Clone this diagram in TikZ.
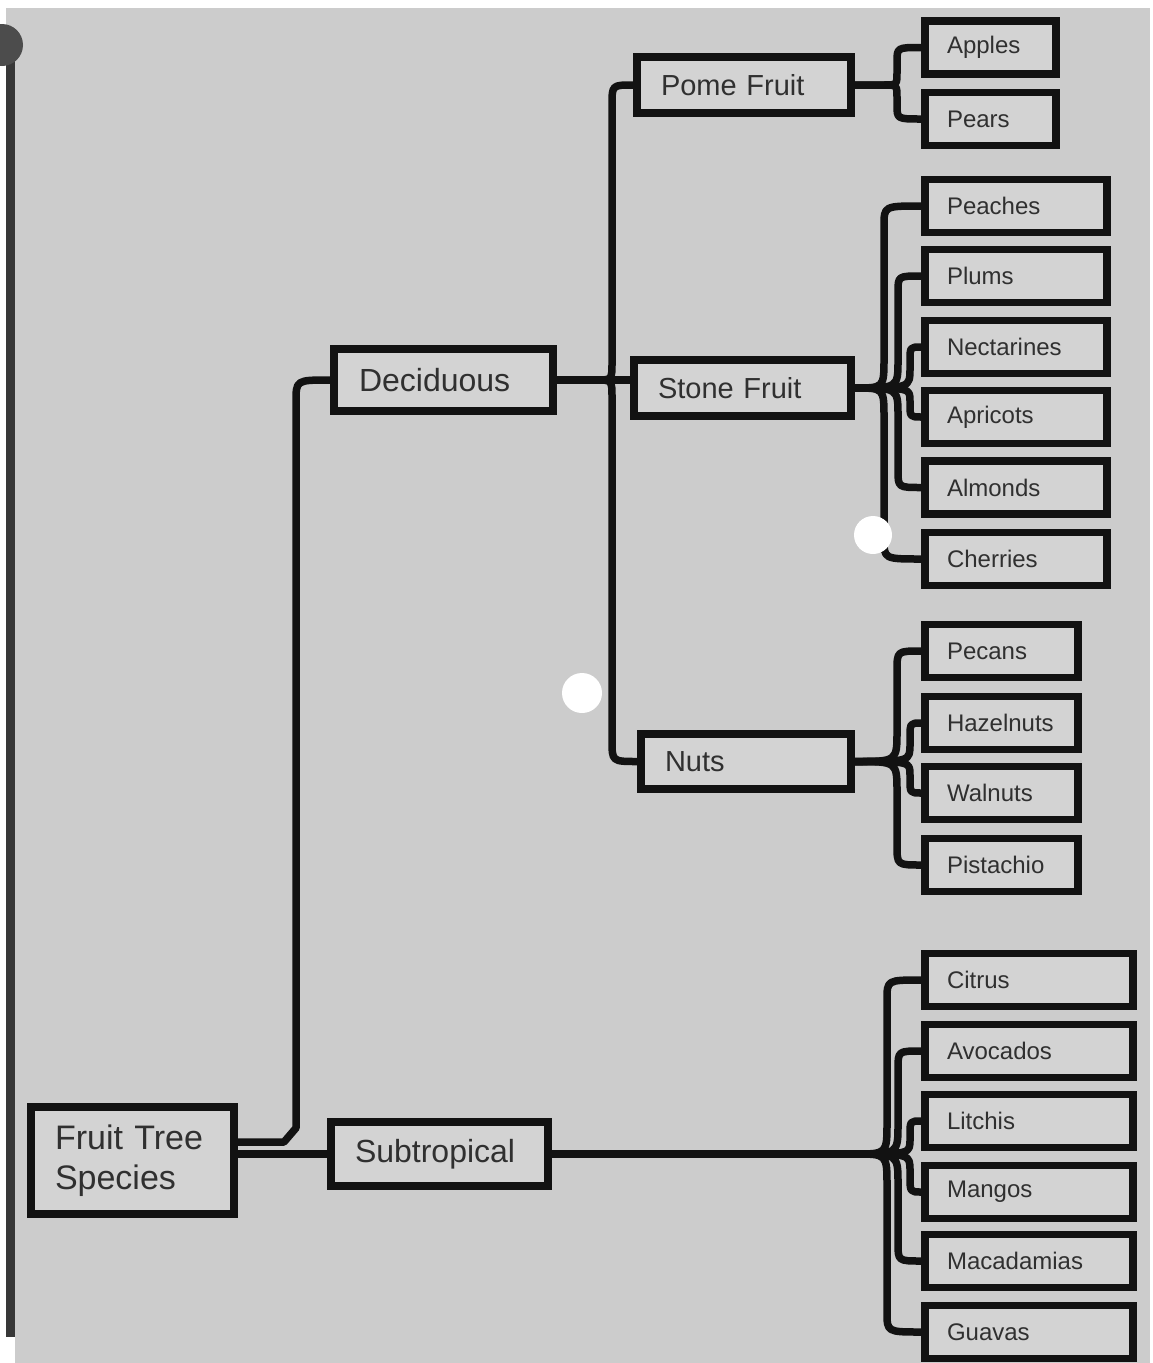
\documentclass[tikz,border=0pt]{standalone}
\usepackage{fontspec}
\setmainfont{Liberation Sans}
\definecolor{bg}{RGB}{204,204,204}
\definecolor{boxfill}{RGB}{211,211,211}
\definecolor{txt}{RGB}{48,48,48}
\definecolor{ln}{RGB}{18,18,18}
\definecolor{strip}{RGB}{55,55,55}
\begin{document}
\begin{tikzpicture}[x=1pt,y=-1pt,
  conn/.style={draw=ln, line width=7.5pt, line join=round},
  box/.style={draw=ln, line width=7.5pt, fill=boxfill, text=txt, align=left, inner ysep=0pt, anchor=center},
  mid/.style={box, inner xsep=24pt, font=\fontsize{29}{34}\selectfont},
  leaf/.style={box, inner xsep=22pt, minimum height=53pt, font=\fontsize{24}{28}\selectfont}]
\useasboundingbox (0,0) rectangle (1153,1363);
% page background
\fill[white] (0,0) rectangle (1153,1363);
\fill[bg] (6,8) rectangle (1150,1363);
\fill[strip] (6,50) rectangle (15,1337);
\fill[white] (0,1337) rectangle (15,1363);
\fill[gray!60!black] (2,45) circle[radius=21pt];

% nodes
\node[box, inner xsep=24pt, minimum width=203pt, minimum height=107pt, text width=155pt,
      font=\fontsize{34}{40}\selectfont] (root) at (132.5,1160.5) {Fruit Tree\\Species};
\node[box, inner xsep=25pt, minimum width=219pt, minimum height=62pt, text width=169pt,
      font=\fontsize{32}{36}\selectfont] (dec) at (443.5,380) {Deciduous};
\node[box, inner xsep=24pt, minimum width=217pt, minimum height=64pt, text width=169pt,
      font=\fontsize{32}{36}\selectfont] (sub) at (439.5,1154) {Subtropical};
\node[mid, minimum width=214pt, minimum height=56pt, text width=166pt] (pome) at (744,85) {Pome Fruit};
\node[mid, minimum width=217pt, minimum height=56pt, text width=169pt] (stone) at (742.5,388) {Stone Fruit};
\node[mid, minimum width=210pt, minimum height=55pt, text width=162pt] (nuts) at (746,761.5) {Nuts};

\node[leaf, minimum width=131pt, text width=87pt] (apples) at (990.5,47.5) {Apples};
\node[leaf, minimum width=131pt, text width=87pt] (pears) at (990.5,119) {Pears};

\node[leaf, minimum width=182pt, text width=138pt] (peaches) at (1016,206) {Peaches};
\node[leaf, minimum width=182pt, text width=138pt] (plums) at (1016,276) {Plums};
\node[leaf, minimum width=182pt, text width=138pt] (nect) at (1016,347) {Nectarines};
\node[leaf, minimum width=182pt, text width=138pt] (apri) at (1016,417) {Apricots};
\node[leaf, minimum width=182pt, text width=138pt] (almo) at (1016,487.5) {Almonds};
\node[leaf, minimum width=182pt, text width=138pt] (cher) at (1016,559) {Cherries};

\node[leaf, minimum width=153pt, text width=109pt] (pecans) at (1001.5,651) {Pecans};
\node[leaf, minimum width=153pt, text width=109pt] (haz) at (1001.5,723) {Hazelnuts};
\node[leaf, minimum width=153pt, text width=109pt] (wal) at (1001.5,793) {Walnuts};
\node[leaf, minimum width=153pt, text width=109pt] (pist) at (1001.5,865) {Pistachio};

\node[leaf, minimum width=208pt, text width=164pt] (citrus) at (1029,980) {Citrus};
\node[leaf, minimum width=208pt, text width=164pt] (avo) at (1029,1051) {Avocados};
\node[leaf, minimum width=208pt, text width=164pt] (lit) at (1029,1121) {Litchis};
\node[leaf, minimum width=208pt, text width=164pt] (man) at (1029,1192) {Mangos};
\node[leaf, minimum width=208pt, text width=164pt] (mac) at (1029,1261) {Macadamias};
\node[leaf, minimum width=208pt, text width=164pt] (gua) at (1029,1332) {Guavas};

% root connectors
\draw[conn] (root.east |- 0,1142) -- (284,1142) -- (296,1128) -- (296,402) .. controls (296,380) .. (dec.west);
\draw[conn] (root.east |- 0,1154) -- (sub.west);

% deciduous connectors
\draw[conn] (dec.east) -- (stone.west |- dec.east);
\draw[conn] (dec.east) -- (596,380) .. controls (612,380) .. (612,362) -- (612,105) .. controls (612,85) .. (pome.west);
\draw[conn] (dec.east) -- (596,380) .. controls (612,380) .. (612,398) -- (612,740) .. controls (612,761.5) .. (nuts.west);

% pome
\draw[conn] (pome.east) -- (884,85) .. controls (897,85) .. (897,72) -- (897,62) .. controls (897,47.5) .. (apples.west);
\draw[conn] (pome.east) -- (884,85) .. controls (897,85) .. (897,98) -- (897,105) .. controls (897,119) .. (pears.west);

% stone
\draw[conn] (stone.east) .. controls (884,388) .. (884,358) -- (884,226) .. controls (884,206) .. (peaches.west);
\draw[conn] (stone.east) .. controls (898,388) .. (898,360) -- (898,292) .. controls (898,276) .. (plums.west);
\draw[conn] (stone.east) .. controls (910,388) .. (910,368) -- (910,361) .. controls (910,347) .. (nect.west);
\draw[conn] (stone.east) .. controls (910,388) .. (910,401) -- (910,404) .. controls (910,417) .. (apri.west);
\draw[conn] (stone.east) .. controls (898,388) .. (898,416) -- (898,470) .. controls (898,487.5) .. (almo.west);
\draw[conn] (stone.east) .. controls (884,388) .. (884,418) -- (884,539) .. controls (884,559) .. (cher.west);

% nuts
\draw[conn] (nuts.east) .. controls (897,761.5) .. (897,731) -- (897,671) .. controls (897,651) .. (pecans.west);
\draw[conn] (nuts.east) .. controls (910,761.5) .. (910,744) -- (910,738) .. controls (910,723) .. (haz.west);
\draw[conn] (nuts.east) .. controls (910,761.5) .. (910,775) -- (910,779) .. controls (910,793) .. (wal.west);
\draw[conn] (nuts.east) .. controls (897,761.5) .. (897,792) -- (897,845) .. controls (897,865) .. (pist.west);

% subtropical
\draw[conn] (sub.east) -- (855,1154) .. controls (887,1154) .. (887,1122) -- (887,1000) .. controls (887,980) .. (citrus.west);
\draw[conn] (sub.east) -- (855,1154) .. controls (898,1154) .. (898,1124) -- (898,1069) .. controls (898,1051) .. (avo.west);
\draw[conn] (sub.east) -- (855,1154) .. controls (910,1154) .. (910,1139) -- (910,1135) .. controls (910,1121) .. (lit.west);
\draw[conn] (sub.east) -- (855,1154) .. controls (910,1154) .. (910,1171) -- (910,1176) .. controls (910,1192) .. (man.west);
\draw[conn] (sub.east) -- (855,1154) .. controls (898,1154) .. (898,1184) -- (898,1243) .. controls (898,1261) .. (mac.west);
\draw[conn] (sub.east) -- (855,1154) .. controls (887,1154) .. (887,1186) -- (887,1312) .. controls (887,1332) .. (gua.west);

% white dots
\fill[white] (873,535) circle[radius=19pt];
\fill[white] (582,693) circle[radius=20pt];
\end{tikzpicture}
\end{document}
